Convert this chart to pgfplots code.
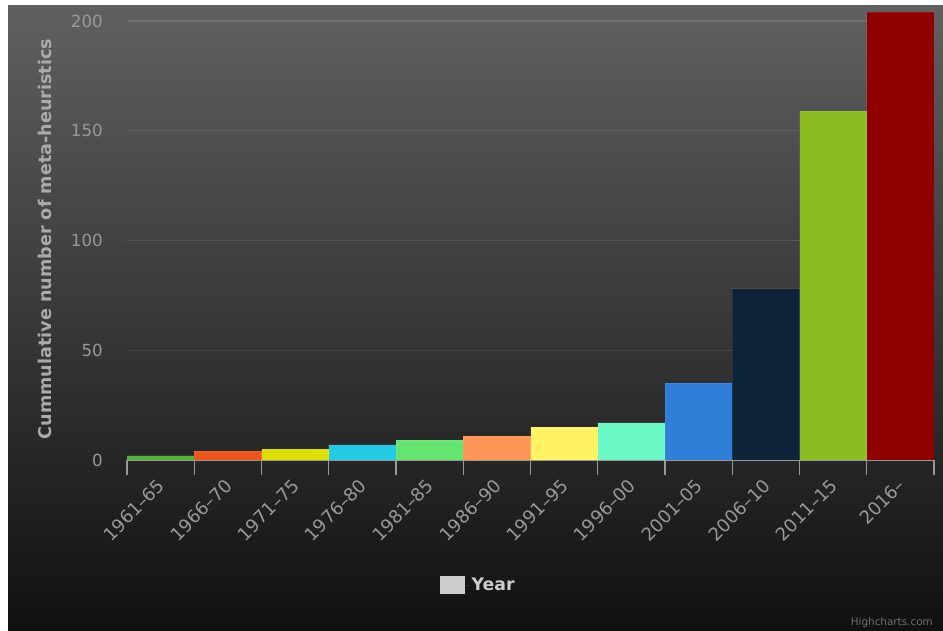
\documentclass[border=0pt]{standalone}
\usepackage{fontspec}
\setmainfont{DejaVu Sans}
\usepackage{pgfplots}
\pgfplotsset{compat=1.18}

% theme colours
\definecolor{bgtop}{RGB}{96,96,96}
\definecolor{bgbot}{RGB}{16,16,16}
\definecolor{axisgray}{HTML}{999999}
\definecolor{titlegray}{HTML}{AAAAAA}
\definecolor{legendgray}{HTML}{CCCCCC}
\definecolor{creditgray}{HTML}{707070}
% one colour per period
\definecolor{cA}{HTML}{50B432}
\definecolor{cB}{HTML}{ED561B}
\definecolor{cC}{HTML}{DDDF00}
\definecolor{cD}{HTML}{24CBE5}
\definecolor{cE}{HTML}{64E572}
\definecolor{cF}{HTML}{FF9655}
\definecolor{cG}{HTML}{FFF263}
\definecolor{cH}{HTML}{6AF9C4}
\definecolor{cI}{HTML}{2F7ED8}
\definecolor{cJ}{HTML}{0D233A}
\definecolor{cK}{HTML}{8BBC21}
\definecolor{cL}{HTML}{910000}

\pgfplotsset{
  period/.style={ybar, bar shift=0pt, bar width=1, forget plot,
    fill=#1, draw=white, draw opacity=0.08, line width=0.5pt},
}

\begin{document}
\begin{tikzpicture}
  \fill[white] (0pt,0pt) rectangle (707.25pt,473.25pt);
  \shade[top color=bgtop, bottom color=bgbot] (6pt,0pt) rectangle (707.25pt,468.75pt);
  \path[use as bounding box] (0pt,0pt) rectangle (707.25pt,473.25pt);

  \begin{axis}[
    at={(95.25pt,128.25pt)}, anchor=south west,
    scale only axis, width=605.25pt, height=337.5pt,
    xmin=-0.5, xmax=11.5, ymin=0, ymax=205,
    axis lines*=left,
    x axis line style={-, draw=axisgray, line width=1.1pt},
    y axis line style={draw=none},
    xtick={0,1,2,3,4,5,6,7,8,9,10,11},
    xticklabels={1961–65,1966–70,1971–75,1976–80,1981–85,1986–90,1991–95,1996–00,2001–05,2006–10,2011–15,2016–},
    minor xtick={-0.5,0.5,1.5,2.5,3.5,4.5,5.5,6.5,7.5,8.5,9.5,10.5,11.5},
    ytick={0,50,100,150,200},
    major tick length=0pt, minor tick length=11.25pt, tick align=outside,
    every minor tick/.append style={draw=axisgray, line width=1.1pt},
    ytick style={draw=none},
    ymajorgrids,
    grid style={draw=white, draw opacity=0.1, line width=1.1pt},
    /pgf/number format/assume math mode=true,
    yticklabel style={text=axisgray, font=\fontsize{12.5}{14}\selectfont,
      inner sep=0pt, anchor=east, xshift=-18pt},
    xticklabel style={xshift=-3pt, yshift=-13pt, rotate=45, anchor=north east,
      inner sep=0pt, text=axisgray, font=\fontsize{13.5}{15}\selectfont},
    ylabel={Cummulative number of meta-heuristics},
    every axis y label/.style={at={(axis description cs:-0.1016,0.491)},
      anchor=center, rotate=90, text=titlegray,
      font=\bfseries\fontsize{13.2}{15}\selectfont},
    legend style={at={(axis description cs:0.4356,-0.2778)}, anchor=center,
      draw=none, fill=none, text=legendgray,
      font=\bfseries\fontsize{13}{15}\selectfont},
    legend image code/.code={\fill[#1] (0pt,-7.1pt) rectangle (18.75pt,7.1pt);
      \path (0pt,0pt) -- (22pt,0pt);},
  ]
    \addlegendimage{fill=legendgray, draw=none}
    \addlegendentry{Year}

    \addplot[period=cA] coordinates {(0,2)};
    \addplot[period=cB] coordinates {(1,4)};
    \addplot[period=cC] coordinates {(2,5)};
    \addplot[period=cD] coordinates {(3,7)};
    \addplot[period=cE] coordinates {(4,9)};
    \addplot[period=cF] coordinates {(5,11)};
    \addplot[period=cG] coordinates {(6,15)};
    \addplot[period=cH] coordinates {(7,17)};
    \addplot[period=cI] coordinates {(8,35)};
    \addplot[period=cJ] coordinates {(9,78)};
    \addplot[period=cK] coordinates {(10,159)};
    \addplot[period=cL] coordinates {(11,204)};
  \end{axis}

  \node[anchor=south east, inner sep=0pt, text=creditgray,
    font=\fontsize{7.8}{9}\selectfont] at (699.75pt,2.25pt) {Highcharts.com};
\end{tikzpicture}
\end{document}
